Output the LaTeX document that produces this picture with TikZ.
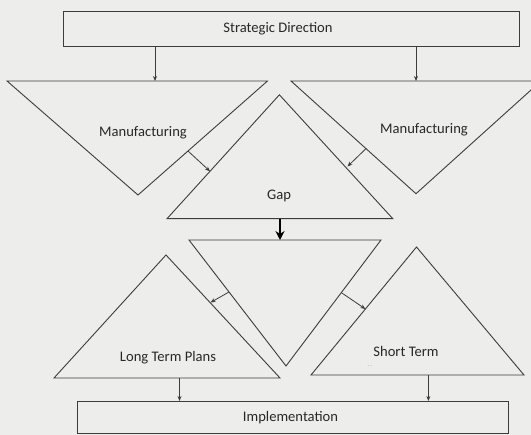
\documentclass[tikz,border=0pt]{standalone}
\usepackage{fontspec}
\setmainfont{Carlito}
\usetikzlibrary{arrows.meta}
\definecolor{bg}{RGB}{237,237,235}
\definecolor{ln}{RGB}{60,60,60}
\definecolor{tx}{RGB}{40,40,40}
\tikzset{
  shapeline/.style={draw=ln, line width=0.9pt, line join=miter},
  lbl/.style={text=tx, font=\fontsize{14.6}{16}\selectfont, inner sep=0pt},
  thinarrow/.style={draw=ln, line width=0.8pt, -{Stealth[length=5pt,width=4pt]}},
  boldarrow/.style={draw=black, line width=2.4pt, -{Stealth[length=9pt,width=9pt]}}
}
\begin{document}
\begin{tikzpicture}[x=1pt,y=-1pt]
\useasboundingbox (0,0) rectangle (531,435);
\fill[bg] (0,0) rectangle (531,435);
\clip (0,0) rectangle (531,435);
% boxes
\draw[shapeline] (63.7,11) rectangle (519.8,46.4);
\node[lbl] (sd) at (278,28.5) {Strategic Direction};
\draw[shapeline] (77,401) rectangle (508,433);
\node[lbl] (impl) at (290.5,418) {Implementation};
% triangle vertices
\coordinate (mlA) at (7,81);   \coordinate (mlB) at (267.5,81);  \coordinate (mlC) at (138,195);
\coordinate (mrA) at (291,81); \coordinate (mrB) at (541,81);    \coordinate (mrC) at (416,193.7);
\coordinate (gA) at (279.4,94.8); \coordinate (gB) at (167,218.7); \coordinate (gC) at (392.8,218.7);
\coordinate (mdA) at (189,240); \coordinate (mdB) at (381,240);  \coordinate (mdC) at (286,366);
\coordinate (ltA) at (166,255); \coordinate (ltB) at (54,378);   \coordinate (ltC) at (280,378);
\coordinate (stA) at (416.5,247); \coordinate (stB) at (311,375); \coordinate (stC) at (524,375);
\draw[shapeline] (mlA) -- (mlB) -- (mlC) -- cycle;
\draw[shapeline] (mrA) -- (mrB) -- (mrC) -- cycle;
\draw[shapeline] (gA) -- (gB) -- (gC) -- cycle;
\draw[shapeline] (mdA) -- (mdB) -- (mdC) -- cycle;
\draw[shapeline] (ltA) -- (ltB) -- (ltC) -- cycle;
\draw[shapeline] (stA) -- (stB) -- (stC) -- cycle;
% labels
\node[lbl] (manl) at (143,133) {Manufacturing};
\node[lbl] (manr) at (424,130) {Manufacturing};
\node[lbl] (gap) at (279,196) {Gap};
\node[lbl] (ltp) at (168,358) {Long Term Plans};
\node[lbl] (stt) at (406,351) {Short Term};
\node[text=gray!70, font=\fontsize{6}{6}\selectfont, inner sep=0pt] (mark) at (370,367) {-\,-};
% connector end points
\coordinate (sdL) at (155,46.4);  \coordinate (mlT) at (155,81);
\coordinate (sdR) at (416,46.4);  \coordinate (mrT) at (416,81);
\coordinate (a1s) at (188,151);   \coordinate (a1e) at (210,171.3);
\coordinate (a2s) at (366,148.6); \coordinate (a2e) at (347.5,166.5);
\coordinate (gBot) at (280,218.7); \coordinate (mdT) at (280,240);
\coordinate (a3s) at (229,292);   \coordinate (a3e) at (210.5,302.5);
\coordinate (a4s) at (341.3,292.6); \coordinate (a4e) at (365.4,309);
\coordinate (ltD) at (179.5,378); \coordinate (imL) at (179.5,401);
\coordinate (stD) at (428.4,375); \coordinate (imR) at (428.4,401);
% connectors
\draw[thinarrow] (sdL) -- (mlT);
\draw[thinarrow] (sdR) -- (mrT);
\draw[thinarrow] (a1s) -- (a1e);
\draw[thinarrow] (a2s) -- (a2e);
\draw[boldarrow] (gBot) -- (mdT);
\draw[thinarrow] (a3s) -- (a3e);
\draw[thinarrow] (a4s) -- (a4e);
\draw[thinarrow] (ltD) -- (imL);
\draw[thinarrow] (stD) -- (imR);
\end{tikzpicture}
\end{document}
